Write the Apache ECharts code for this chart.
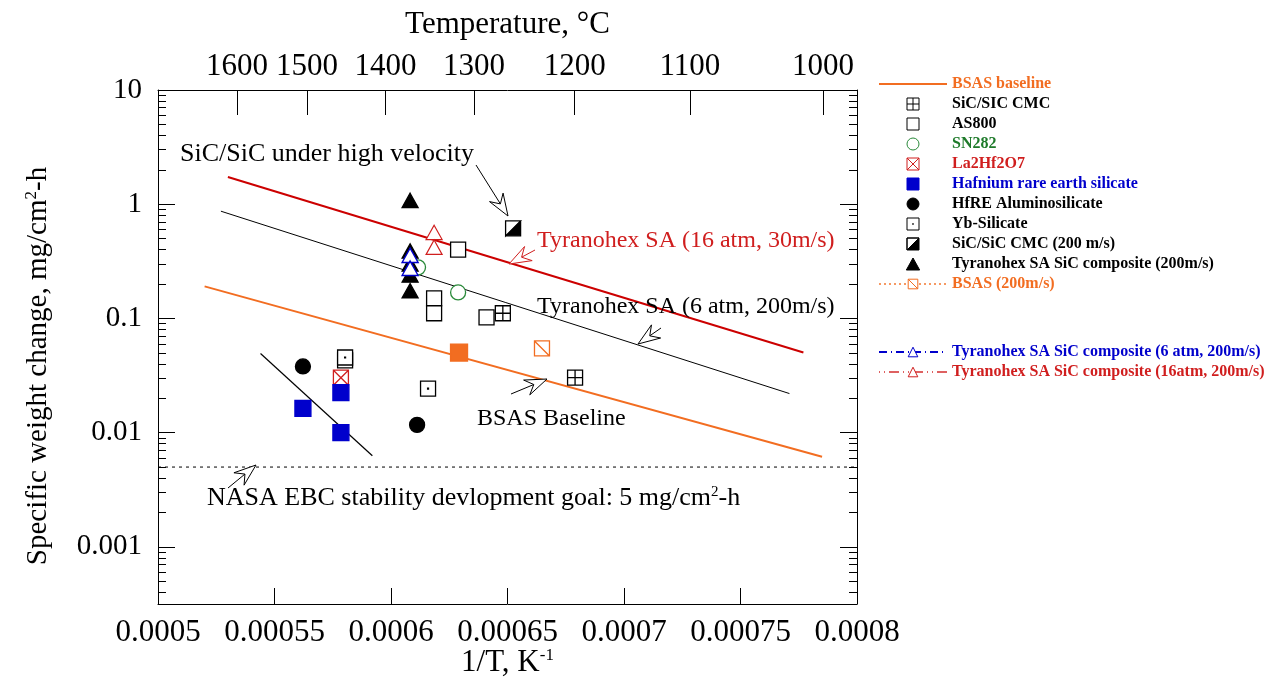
<!DOCTYPE html>
<html>
<head>
<meta charset="utf-8">
<script src="https://cdn.jsdelivr.net/npm/echarts@6/dist/echarts.min.js"></script>
<style>
html,body{margin:0;padding:0;background:#fff;}
#main{width:1268px;height:691px;}
</style>
</head>
<body>
<div id="main"></div>
<script>
// x = 1/T (K^-1), y = specific weight change (mg/cm2-h)
var yTickLabels = ['0.001', '0.01', '0.1', '1', '10'];
var tempTicks = [1600, 1500, 1400, 1300, 1200, 1100, 1000];

// trend lines
var bsasLineX = [0.000520, 0.000785];
var bsasLineY = [0.191, 0.00615];
var tyr16LineX = [0.000530, 0.000777];
var tyr16LineY = [1.73, 0.0503];
var tyr6LineX = [0.000527, 0.000771];
var tyr6LineY = [0.869, 0.022];
var hfLineX = [0.000544, 0.000592];
var hfLineY = [0.0493, 0.00628];
var goalX = [0.0005, 0.0008];
var goalY = [0.005, 0.005];

// measured points
var sicCmcX = [0.000648, 0.000679];
var sicCmcY = [0.111, 0.0303];
var as800X = [0.0006185, 0.0006185, 0.000641, 0.0006288, 0.0005803];
var as800Y = [0.150, 0.111, 0.102, 0.40, 0.043];
var sn282X = [0.0006116, 0.0006288];
var sn282Y = [0.28, 0.169];
var laHfX = [0.0005785];
var laHfY = [0.0303];
var hfreSilX = [0.0005785, 0.0005622, 0.0005785];
var hfreSilY = [0.0224, 0.0163, 0.0100];
var hfreAlX = [0.0005622, 0.0006112];
var hfreAlY = [0.038, 0.0117];
var ybX = [0.0005803, 0.0006159];
var ybY = [0.0455, 0.0243];
var sic200X = [0.0006524];
var sic200Y = [0.615];
var tyr200X = [0.0006082, 0.0006082, 0.0006082, 0.0006082, 0.0006082];
var tyr200Y = [1.08, 0.39, 0.30, 0.24, 0.175];
var bsasFillX = [0.0006292];
var bsasFillY = [0.0503];
var bsas200X = [0.0006648];
var bsas200Y = [0.0546];
var tyr6atmX = [0.0006082, 0.0006082];
var tyr6atmY = [0.357, 0.275];
var tyr16atmX = [0.0006185, 0.0006185];
var tyr16atmY = [0.567, 0.42];

var FONT = 'Liberation Serif';
var ORANGE = '#f26d21', RED = '#d01e1e', BLUE = '#0000cc', GREEN = '#2a8a3a';

function pts(xs, ys) {
	return xs.map(function (x, i) { return [x, Math.log10(ys[i])]; });
}
function gapPts(xs, ys) {
	var out = [];
	xs.forEach(function (x, i) {
		if (i) out.push([x, '-']);
		out.push([x, Math.log10(ys[i])]);
	});
	return out;
}

var majorY = yTickLabels.map(function (s) { return Math.log10(parseFloat(s)); });
var minorY = [];
for (var d = -4; d <= 0; d++) {
	for (var k = 2; k <= 9; k++) {
		var v = d + Math.log10(k);
		if (v >= -3.5 && v <= 1) minorY.push(v);
	}
}
var tempPos = tempTicks.map(function (t) { return 1 / (t + 273.15); });

var sq = 'path://M0,0L10,0L10,10L0,10Z';
var tri = 'path://M5,0L10,9L0,9Z';
var bar = 'path://M0,0L68,0L68,2L0,2Z';
var sqGrid = 'path://M0,0L10,0L10,10L0,10ZM5,0L5,10M0,5L10,5';
var sqCross = 'path://M0,0L10,0L10,10L0,10ZM0,0L10,10M10,0L0,10';
var sqDiag = 'path://M0,0L10,0L10,10L0,10ZM0,0L10,10';
var sqHalf = 'path://M0,0L10,0L10,10L0,10ZM0,0L0,10L10,0Z';
var sqDot = 'path://M0,0L10,0L10,10L0,10ZM4.7,4.7L5.3,4.7L5.3,5.3L4.7,5.3Z';

function yAx(pos, ticks, len, showLine, showLabel) {
	return {
		type: 'value', position: pos, min: -3.5, max: 1,
		axisLine: { show: showLine, onZero: false, lineStyle: { color: '#000', width: 1 } },
		axisTick: { show: true, inside: true, length: len, customValues: ticks, lineStyle: { color: '#000' } },
		axisLabel: showLabel ? {
			customValues: majorY, margin: 16, color: '#000', fontFamily: FONT, fontSize: 29,
			formatter: function (v) { return yTickLabels[Math.round(v) + 3]; }
		} : { show: false },
		splitLine: { show: false }
	};
}

function lineSeries(name, xs, ys, color, width, type) {
	return {
		name: name, type: 'line', symbol: 'none', data: pts(xs, ys), z: 2,
		lineStyle: { color: color, width: width, type: type || 'solid' },
		itemStyle: { color: color }
	};
}
function scat(name, xs, ys, symbol, size, fill, stroke) {
	return {
		name: name, type: 'scatter', symbol: symbol, symbolSize: size, symbolKeepAspect: true,
		data: pts(xs, ys), z: 5,
		itemStyle: { color: fill, borderColor: stroke, borderWidth: 1.3, opacity: 1 }
	};
}

function arrow(x1, y1, x2, y2, color) {
	var dx = x2 - x1, dy = y2 - y1, len = Math.sqrt(dx * dx + dy * dy);
	var ux = dx / len, uy = dy / len, nx = -uy, ny = ux;
	var L = 22, W = 8;
	var bx = x2 - ux * L, by = y2 - uy * L;
	var notchX = bx + ux * L * 0.35, notchY = by + uy * L * 0.35;
	return [{
		type: 'line', shape: { x1: x1, y1: y1, x2: notchX, y2: notchY },
		style: { stroke: color, lineWidth: 1 }, z: 10
	}, {
		type: 'polygon',
		shape: { points: [[x2, y2], [bx + nx * W, by + ny * W], [notchX, notchY], [bx - nx * W, by - ny * W]] },
		style: { fill: '#fff', stroke: color, lineWidth: 1 }, z: 10
	}];
}
function label(text, x, y, color, size) {
	return {
		type: 'text', left: x, top: y, z: 11,
		style: {
			text: text, fill: color, fontFamily: FONT, fontSize: size,
			rich: { sup: { fontSize: 15, verticalAlign: 'top', fill: color, fontFamily: FONT } }
		}
	};
}

var legendText = { fontFamily: FONT, fontSize: 16, fontWeight: 'bold' };
function item(name, color, icon) {
	var o = { name: name, textStyle: { color: color } };
	if (icon) o.icon = icon;
	return o;
}
function legendBox(top, data) {
	return {
		orient: 'vertical', left: 878, top: top, padding: 0, itemWidth: 68, itemHeight: 12, itemGap: 4,
		symbolKeepAspect: true, selectedMode: false, textStyle: legendText,
		itemStyle: { borderWidth: 1 }, data: data
	};
}

var chart = echarts.init(document.getElementById('main'));
var option = {
	animation: false,
	backgroundColor: '#fff',
	grid: { left: 158, right: 411, top: 90, bottom: 87 },
	xAxis: [{
		type: 'value', position: 'bottom', min: 0.0005, max: 0.0008, interval: 0.00005,
		name: '1/T, K{sup|-1}', nameLocation: 'middle', nameGap: 43, nameMoveOverlap: false,
		nameTextStyle: { fontFamily: FONT, fontSize: 31, color: '#000',
			rich: { sup: { fontSize: 17, verticalAlign: 'top', fontFamily: FONT } } },
		axisLine: { onZero: false, lineStyle: { color: '#000', width: 1 } },
		axisTick: { inside: true, length: 16, lineStyle: { color: '#000' } },
		axisLabel: { margin: 13, color: '#000', fontFamily: FONT, fontSize: 31,
			formatter: function (v) { return String(+v.toFixed(5)); } },
		splitLine: { show: false }
	}, {
		type: 'value', position: 'top', min: 0.0005, max: 0.0008,
		name: 'Temperature, °C', nameLocation: 'middle', nameGap: 50,
		nameTextStyle: { fontFamily: FONT, fontSize: 31, color: '#000' },
		axisLine: { onZero: false, lineStyle: { color: '#000', width: 1 } },
		axisTick: { inside: true, length: 25, customValues: tempPos, lineStyle: { color: '#000' } },
		axisLabel: { customValues: tempPos, margin: 8, color: '#000', fontFamily: FONT, fontSize: 31,
			formatter: function (v) { return String(Math.round(1 / v - 273.15)); } },
		splitLine: { show: false }
	}],
	yAxis: [
		yAx('left', majorY, 17, true, true),
		yAx('left', minorY, 8, false, false),
		yAx('right', majorY, 17, true, false),
		yAx('right', minorY, 8, false, false)
	],
	legend: [
		legendBox(76, [
			item('BSAS baseline', ORANGE, bar),
			item('SiC/SIC CMC', '#000'),
			item('AS800', '#000'),
			item('SN282', '#1e7a2a'),
			item('La2Hf2O7', RED),
			item('Hafnium rare earth silicate', BLUE),
			item('HfRE Aluminosilicate', '#000'),
			item('Yb-Silicate', '#000'),
			item('SiC/SiC CMC (200 m/s)', '#000'),
			item('Tyranohex SA SiC composite (200m/s)', '#000'),
			item('BSAS (200m/s)', ORANGE)
		]),
		legendBox(344, [
			item('Tyranohex SA SiC composite (6 atm, 200m/s)', BLUE),
			item('Tyranohex SA SiC composite (16atm, 200m/s)', RED)
		])
	],
	series: [
		lineSeries('BSAS baseline', bsasLineX, bsasLineY, ORANGE, 2),
		lineSeries('Tyranohex SA 16 atm', tyr16LineX, tyr16LineY, '#cc0000', 2),
		lineSeries('Tyranohex SA 6 atm', tyr6LineX, tyr6LineY, '#000', 1),
		lineSeries('Hf trend', hfLineX, hfLineY, '#000', 1.2),
		lineSeries('EBC goal', goalX, goalY, '#000', 1, [3, 4]),
		scat('SiC/SIC CMC', sicCmcX, sicCmcY, sqGrid, 15, '#fff', '#000'),
		scat('AS800', as800X, as800Y, sq, 15, '#fff', '#000'),
		scat('SN282', sn282X, sn282Y, 'circle', 15, '#fff', GREEN),
		scat('La2Hf2O7', laHfX, laHfY, sqCross, 15, '#fff', RED),
		scat('Hafnium rare earth silicate', hfreSilX, hfreSilY, sq, 16, BLUE, BLUE),
		scat('HfRE Aluminosilicate', hfreAlX, hfreAlY, 'circle', 15, '#000', '#000'),
		scat('Yb-Silicate', ybX, ybY, sqDot, 15, '#fff', '#000'),
		scat('SiC/SiC CMC (200 m/s)', sic200X, sic200Y, sqHalf, 15, '#000', '#000'),
		scat('Tyranohex SA SiC composite (200m/s)', tyr200X, tyr200Y, tri, 16, '#000', '#000'),
		scat('BSAS', bsasFillX, bsasFillY, sq, 17, ORANGE, ORANGE),
		{
			name: 'BSAS (200m/s)', type: 'line', symbol: sqDiag, symbolSize: 15, showSymbol: true,
			data: gapPts(bsas200X, bsas200Y), z: 5,
			lineStyle: { color: ORANGE, width: 1, type: [2, 3], opacity: 0.7 },
			itemStyle: { color: '#fff', borderColor: ORANGE, borderWidth: 1.3 }
		},
		{
			name: 'Tyranohex SA SiC composite (6 atm, 200m/s)', type: 'line', symbol: tri, symbolSize: 16,
			symbolKeepAspect: true, showSymbol: true, data: gapPts(tyr6atmX, tyr6atmY), z: 6,
			lineStyle: { color: BLUE, width: 1, type: [8, 4, 1, 4] },
			itemStyle: { color: '#fff', borderColor: BLUE, borderWidth: 1.4 }
		},
		{
			name: 'Tyranohex SA SiC composite (16atm, 200m/s)', type: 'line', symbol: tri, symbolSize: 16,
			symbolKeepAspect: true, showSymbol: true, data: gapPts(tyr16atmX, tyr16atmY), z: 6,
			lineStyle: { color: RED, width: 1, type: [1, 4, 1, 4, 10, 4], opacity: 0.7 },
			itemStyle: { color: '#fff', borderColor: RED, borderWidth: 1.2 }
		}
	],
	graphic: [].concat(
		[{
			type: 'text', x: 38, y: 366, rotation: Math.PI / 2, z: 11,
			style: {
				text: 'Specific weight change, mg/cm{sup|2}-h', fill: '#000', fontFamily: FONT, fontSize: 29,
				align: 'center', verticalAlign: 'middle',
				rich: { sup: { fontSize: 17, verticalAlign: 'top', fontFamily: FONT } }
			}
		}],
		[label('SiC/SiC under high velocity', 180, 141, '#000', 26)],
		arrow(476, 165, 508, 216, '#000'),
		[label('Tyranohex SA (16 atm, 30m/s)', 537, 229, RED, 24)],
		arrow(535, 250, 509, 264, RED),
		[label('Tyranohex SA (6 atm, 200m/s)', 537, 295, '#000', 24)],
		arrow(661, 328, 638, 344, '#000'),
		[label('BSAS Baseline', 477, 407, '#000', 24)],
		arrow(511, 394, 547, 379, '#000'),
		[label('NASA EBC stability devlopment goal: 5 mg/cm{sup|2}-h', 207, 485, '#000', 26)],
		arrow(228, 488, 256, 465, '#000')
	)
};
chart.setOption(option);
window.addEventListener('resize', function () {
	chart.resize();
});
</script>
</body>
</html>
